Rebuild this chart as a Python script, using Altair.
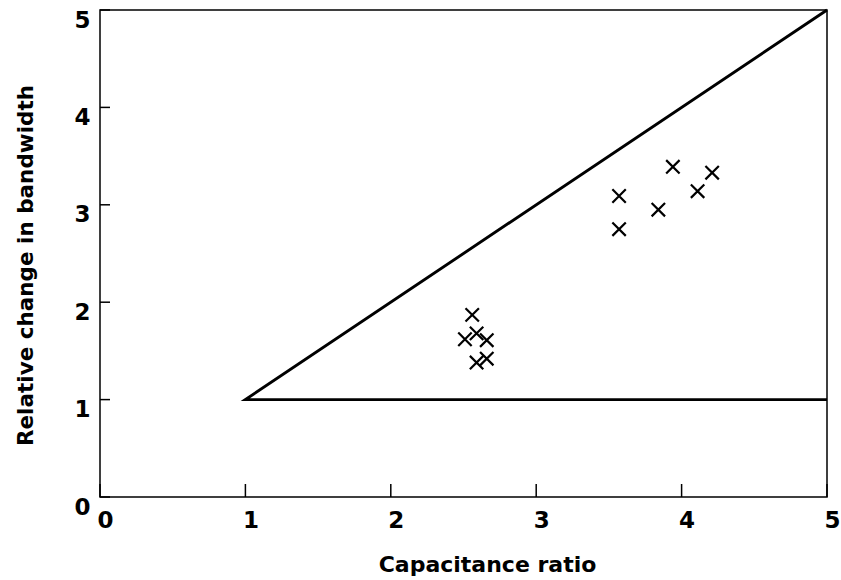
import altair as alt
import pandas as pd

# Measured points: capacitance ratio vs. relative change in bandwidth
cap_ratio = [2.56, 2.51, 2.59, 2.66, 2.59, 2.66, 3.57, 3.57, 3.84, 3.94, 4.11, 4.21]
bw_change = [1.87, 1.62, 1.68, 1.61, 1.38, 1.42, 3.09, 2.75, 2.95, 3.39, 3.14, 3.33]

# Bounding lines: upper limit y = x, lower limit y = 1, both starting at (1, 1)
bound_x = [5, 1, 5]
bound_y = [5, 1, 1]

tick_values = [0, 1, 2, 3, 4, 5]

W, H = 727, 487
FONT = "DejaVu Sans"

points = pd.DataFrame({"x": cap_ratio, "y": bw_change})
bounds = pd.DataFrame({"x": bound_x, "y": bound_y, "order": list(range(len(bound_x)))})
ticks = pd.DataFrame({"v": tick_values})

xscale = alt.Scale(domain=[0, 5], nice=False, zero=False)
yscale = alt.Scale(domain=[0, 5], nice=False, zero=False)

x_axis = alt.Axis(
    title="Capacitance ratio", values=tick_values, format="d",
    labelPadding=12, labelOffset=5, labelFlush=False, labelOverlap=False,
    titleX=387, titleY=74, titleBaseline="alphabetic", titleAlign="center",
    titleFontSize=22,
)
y_axis = alt.Axis(
    title="Relative change in bandwidth", values=tick_values, format="d",
    labelPadding=10, labelBaseline="top", labelOffset=-1,
    labelFlush=False, labelOverlap=False,
    titleX=-68, titleY=255, titleAngle=270, titleBaseline="alphabetic",
    titleAlign="center", titleFontSize=21.5,
)

bound_layer = alt.Chart(bounds).mark_line(color="black", strokeWidth=2.9).encode(
    x=alt.X("x:Q", scale=xscale, axis=x_axis),
    y=alt.Y("y:Q", scale=yscale, axis=y_axis),
    order="order:Q",
)

cross_path = "M-1,-1L1,1M-1,1L1,-1"
point_layer = alt.Chart(points).mark_point(
    shape=cross_path, size=180, filled=False, color="black", strokeWidth=2.2, opacity=1
).encode(
    x=alt.X("x:Q", scale=xscale),
    y=alt.Y("y:Q", scale=yscale),
)

# Inward-pointing tick marks on the left and bottom edges
y_ticks = alt.Chart(ticks).mark_tick(
    orient="horizontal", size=10, thickness=1.5, color="black", opacity=1
).encode(x=alt.value(5), y=alt.Y("v:Q", scale=yscale))

x_ticks = alt.Chart(ticks).mark_tick(
    orient="vertical", size=13, thickness=1.5, color="black", opacity=1
).encode(x=alt.X("v:Q", scale=xscale), y=alt.value(H - 6.5))

chart = (
    alt.layer(bound_layer, point_layer, y_ticks, x_ticks)
    .properties(
        width=W, height=H,
        autosize=alt.AutoSizeParams(type="none"),
        padding={"left": 100, "top": 10, "right": 14, "bottom": 83},
        background="white",
    )
    .configure_view(stroke="black", strokeWidth=1.5)
    .configure_axis(
        grid=False, ticks=False, domain=False,
        labelFont=FONT, labelFontSize=23, labelFontWeight="bold", labelColor="black",
        titleFont=FONT, titleFontWeight="bold", titleColor="black",
    )
)

chart.save("out.html", embed_options={"renderer": "svg", "actions": False})
